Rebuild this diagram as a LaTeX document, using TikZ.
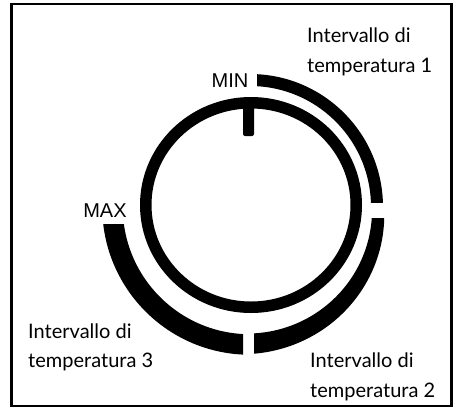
\documentclass[tikz,border=0pt]{standalone}
\usepackage{fontspec}
\newfontfamily\labfont{Lato}
\newfontfamily\endfont{Liberation Sans}
\begin{document}
\begin{tikzpicture}[x=1pt,y=-1pt,
  lab/.style={font=\labfont\fontsize{20}{24}\selectfont, inner sep=0pt, anchor=base west},
  endlab/.style={font=\endfont\fontsize{20}{24}\selectfont, inner sep=0pt, anchor=base},
  band/.style={fill=black}]
\useasboundingbox (0,0) rectangle (455,408);
% frame
\draw[line width=2.5pt] (11.5,4) rectangle (451.5,406);
% knob
\coordinate (c) at (250,207);
\draw[line width=11.5pt] (251,205) ellipse [x radius=105.25, y radius=102.25];
\fill[rounded corners=2pt] (243,100) rectangle (254,136);
% arc 1
\begin{scope}
  \clip (257,0) rectangle (455,202);
  \draw[line width=12pt] (c) circle [radius=127];
\end{scope}
% arc 2 (tapering)
\begin{scope}
  \clip (254,218) rectangle (455,408);
  \fill[band] plot[domain=6:-96, samples=80, variable=\t]
      ({250+(122+4.5*(-\t)/90)*cos(\t)}, {207-(122+4.5*(-\t)/90)*sin(\t)})
    -- plot[domain=-96:6, samples=80, variable=\t]
      ({250+(134+13*(-\t)/90)*cos(\t)}, {207-(134+13*(-\t)/90)*sin(\t)})
    -- cycle;
\end{scope}
% arc 3
\begin{scope}
  \clip (0,224) rectangle (243,408);
  \draw[line width=20.5pt] (c) circle [radius=137.5];
\end{scope}
% texts
\node[endlab] (min) at (230,87) {MIN};
\node[endlab] (max) at (105,217) {MAX};
\node[lab] (l1a) at (307,42) {Intervallo di};
\node[lab] (l1b) at (307,72) {temperatura 1};
\node[lab] (l2a) at (310,367) {Intervallo di};
\node[lab] (l2b) at (310,397) {temperatura 2};
\node[lab] (l3a) at (28,338) {Intervallo di};
\node[lab] (l3b) at (28,367) {temperatura 3};
\end{tikzpicture}
\end{document}
